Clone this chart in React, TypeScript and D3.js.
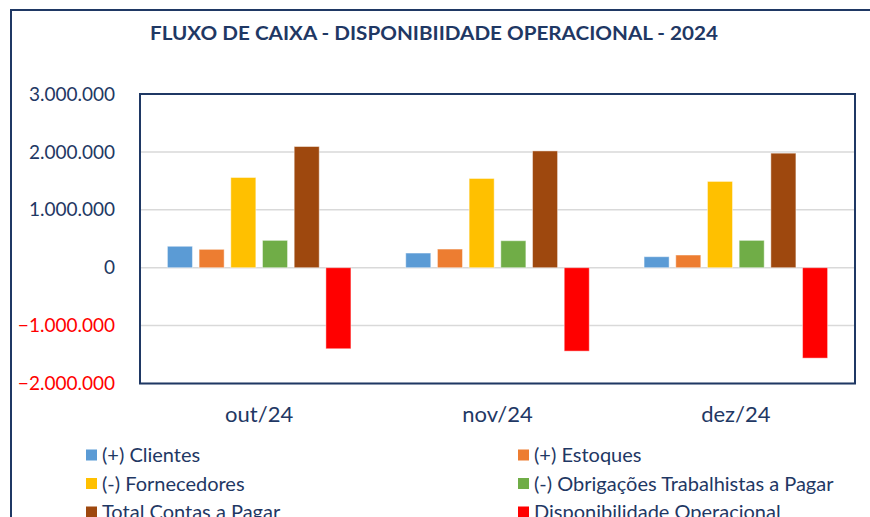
import React, { useEffect, useRef } from 'react';
import * as d3 from 'd3';

const months = ['out/24', 'nov/24', 'dez/24'];
const seriesNames = [
  '(+) Clientes',
  '(+) Estoques',
  '(-) Fornecedores',
  '(-) Obrigações Trabalhistas a Pagar',
  'Total Contas a Pagar',
  'Disponibilidade Operacional',
];
const seriesColors = ['#5B9BD5', '#ED7D31', '#FFC000', '#70AD47', '#9E480E', '#FF0000'];

const clientes = [370000, 253000, 190000];
const estoques = [317000, 322000, 219000];
const fornecedores = [1558000, 1541000, 1490000];
const obrigacoes = [472000, 466000, 472000];
const totalContas = [2093000, 2017000, 1978000];
const disponibilidade = [-1400000, -1441000, -1562000];

const yTicks = [-2000000, -1000000, 0, 1000000, 2000000, 3000000];

const navy = '#1F3864';
const font = 'Lato, sans-serif';

export default function App() {
  const ref = useRef<SVGSVGElement>(null);

  useEffect(() => {
    const svg = d3.select(ref.current);
    svg.selectAll('*').remove();

    const W = 870, H = 517;
    const plot = { left: 140, right: 855, top: 94, bottom: 383.5 };
    const values = [clientes, estoques, fornecedores, obrigacoes, totalContas, disponibilidade];

    svg.append('rect').attr('width', W).attr('height', H).attr('fill', '#fff');

    // outer frame (chart area border)
    svg.append('rect')
      .attr('x', 11).attr('y', 10)
      .attr('width', 900).attr('height', 600)
      .attr('fill', 'none').attr('stroke', navy).attr('stroke-width', 2);

    svg.append('text')
      .attr('x', 434).attr('y', 40)
      .attr('text-anchor', 'middle')
      .attr('font-family', font).attr('font-weight', 'bold').attr('font-size', 19)
      .attr('fill', navy)
      .attr('textLength', 568).attr('lengthAdjust', 'spacingAndGlyphs')
      .text('FLUXO DE CAIXA - DISPONIBIIDADE OPERACIONAL - 2024');

    const y = d3.scaleLinear().domain([-2000000, 3000000]).range([plot.bottom, plot.top]);
    const x0 = d3.scaleBand<string>().domain(months).range([plot.left, plot.right])
      .paddingInner(0.23).paddingOuter(0.115);
    const x1 = d3.scaleBand<number>().domain(d3.range(seriesNames.length))
      .range([0, x0.bandwidth()]).paddingInner(0.21).paddingOuter(0);

    const fmt = (v: number) => d3.format(',')(v).replace(/,/g, '.');

    // grid
    svg.append('g').selectAll('line').data(yTicks).enter().append('line')
      .attr('x1', plot.left).attr('x2', plot.right)
      .attr('y1', d => y(d)).attr('y2', d => y(d))
      .attr('stroke', '#D9D9D9').attr('stroke-width', 1.5);

    // y labels
    svg.append('g').selectAll('text').data(yTicks).enter().append('text')
      .attr('x', 115).attr('y', d => y(d)).attr('dy', '0.35em')
      .attr('text-anchor', 'end')
      .attr('font-family', font).attr('font-size', 19)
      .attr('fill', d => (d < 0 ? '#FF0000' : navy))
      .text(d => fmt(d));

    // bars
    const groups = svg.append('g').selectAll('g').data(months).enter().append('g')
      .attr('transform', d => `translate(${x0(d)},0)`);
    groups.selectAll('rect')
      .data((m, i) => values.map((s, k) => ({ k, v: s[i] })))
      .enter().append('rect')
      .attr('x', d => x1(d.k)!)
      .attr('width', x1.bandwidth())
      .attr('y', d => y(Math.max(0, d.v)))
      .attr('height', d => Math.abs(y(d.v) - y(0)))
      .attr('fill', d => seriesColors[d.k])
      .attr('stroke', 'rgba(255,255,255,0.45)').attr('stroke-width', 1);

    // plot border
    svg.append('rect')
      .attr('x', plot.left).attr('y', plot.top)
      .attr('width', plot.right - plot.left).attr('height', plot.bottom - plot.top)
      .attr('fill', 'none').attr('stroke', navy).attr('stroke-width', 2);

    // x labels
    svg.append('g').selectAll('text').data(months).enter().append('text')
      .attr('x', d => x0(d)! + x0.bandwidth() / 2).attr('y', 414).attr('dy', '0.35em')
      .attr('text-anchor', 'middle')
      .attr('font-family', font).attr('font-size', 22)
      .attr('fill', navy)
      .text(d => d);

    // legend
    const leg = svg.append('g').selectAll('g').data(seriesNames).enter().append('g')
      .attr('transform', (d, i) => `translate(${i % 2 === 0 ? 86 : 518},${455 + Math.floor(i / 2) * 28.5})`);
    leg.append('rect').attr('x', 0).attr('y', -5.5).attr('width', 11).attr('height', 11)
      .attr('fill', (d, i) => seriesColors[i]);
    leg.append('text').attr('x', 16).attr('y', 0).attr('dy', '0.35em')
      .attr('font-family', font).attr('font-size', 20)
      .attr('fill', navy)
      .text(d => d);
  }, []);

  return (
    <svg ref={ref} width={870} height={517}
      style={{ position: 'absolute', left: 0, top: 0 }} />
  );
}
